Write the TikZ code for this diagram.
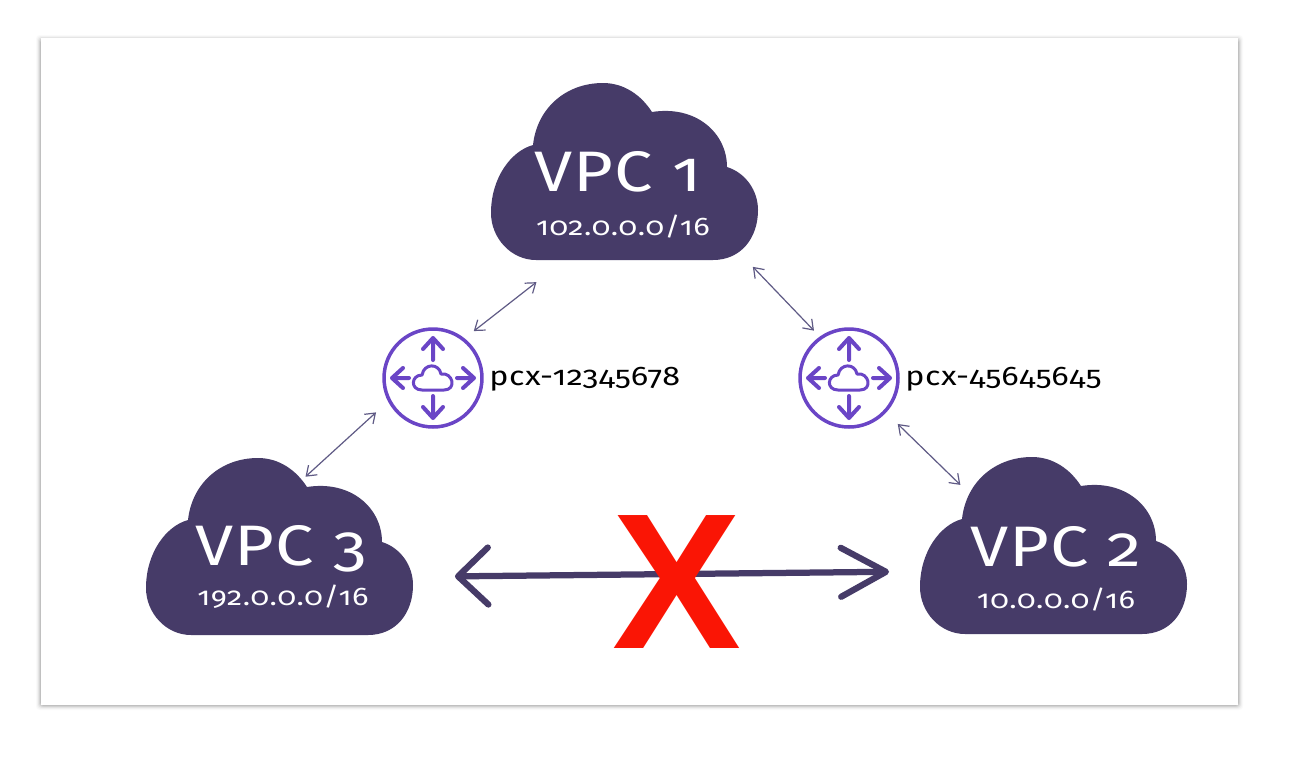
\documentclass[tikz,border=0pt]{standalone}
\usepackage{fontspec}
\setmainfont[Numbers=OldStyle,FakeStretch=1.2,LetterSpace=2]{Fira Sans}
\newfontfamily\crossfont{Liberation Sans}
\usetikzlibrary{arrows.meta}
\definecolor{vpcfill}{HTML}{463B68}
\definecolor{pcxpurple}{HTML}{6A45C6}
\definecolor{linkgray}{HTML}{5F5A85}
\definecolor{crossred}{HTML}{FA1505}
\begin{document}
\begin{tikzpicture}[x=0.02cm,y=-0.02cm,
  vpcbox/.style={minimum width=5.34cm,minimum height=3.54cm,inner sep=0pt,outer sep=0pt},
  vpcname/.style={text=white,inner sep=0pt,font=\fontsize{32.5}{32.5}\selectfont},
  vpccidr/.style={text=white,inner sep=0pt,font=\fontsize{14.5}{14.5}\selectfont},
  pcxbox/.style={circle,draw=pcxpurple,line width=0.07cm,minimum size=1.96cm,inner sep=0pt,outer sep=0pt},
  pcxname/.style={inner sep=0pt,anchor=west,font=\fontsize{15.3}{15.3}\selectfont},
  link/.style={{Straight Barb[length=0.18cm,width=0.26cm]}-{Straight Barb[length=0.18cm,width=0.26cm]},linkgray,line width=0.024cm},
  vpccloud/.pic={
    \fill[vpcfill] (42,62) .. controls (46,25) and (75,0) .. (112,0)
      .. controls (133,0) and (150,12) .. (161,29)
      .. controls (205,22) and (236,50) .. (236,84)
      .. controls (255,90) and (267,108) .. (267,127)
      .. controls (267,155) and (250,177) .. (222,177)
      -- (45,177) .. controls (20,177) and (0,155) .. (0,130)
      .. controls (0,95) and (20,68) .. (42,62) -- cycle;
  },
  pcxicon/.pic={
    \begin{scope}[pcxpurple,line width=0.08cm,line cap=round,line join=round]
    \draw (0,-18) -- (0,-40) (-10,-29) -- (0,-40) -- (10,-29);
    \draw (0,18) -- (0,40) (-10,29) -- (0,40) -- (10,29);
    \draw (-24,0) -- (-41,0) (-30,-10) -- (-41,0) -- (-30,10);
    \draw (24,0) -- (41,0) (30,-10) -- (41,0) -- (30,10);
    \draw[line width=0.06cm] (-11,12) .. controls (-23,12) and (-22,-3) .. (-11,-3)
      .. controls (-9,-15) and (6,-15) .. (8,-4)
      .. controls (20,-6) and (24,12) .. (11,12) -- cycle;
    \end{scope}
  }]
\path[use as bounding box] (0,0) rectangle (1294,758);
\fill[white] (0,0) rectangle (1294,758);
% soft edge of the sheet
\foreach \r/\o in {5/0.02,4/0.03,3/0.05,2/0.07,1/0.09}
  \fill[black,opacity=\o,rounded corners=2pt] (41-\r,40-\r) rectangle (1238+\r,705+\r);
\fill[white] (41,38) rectangle (1238,705);
\pic at (491,83) {vpccloud};
\pic at (146,458) {vpccloud};
\pic at (920,457) {vpccloud};
\node[vpcbox] (vpc1) at (624.5,171.5) {};
\node[vpcbox] (vpc3) at (279.5,546) {};
\node[vpcbox] (vpc2) at (1053.5,545.5) {};
\node[vpcname] (vpc1name) at (618,172) {VPC 1};
\node[vpccidr] (vpc1cidr) at (623,227) {102.0.0.0/16};
\node[vpcname] (vpc3name) at (281,549) {VPC 3};
\node[vpccidr] (vpc3cidr) at (283,597) {192.0.0.0/16};
\node[vpcname] (vpc2name) at (1056,547) {VPC 2};
\node[vpccidr] (vpc2cidr) at (1056,600) {10.0.0.0/16};
\node[pcxbox] (pcx1) at (433,378) {};
\node[pcxbox] (pcx2) at (849,378) {};
\pic at (433,378) {pcxicon};
\pic at (849,378) {pcxicon};
\node[pcxname] (pcx1name) at (489,379) {pcx-12345678};
\node[pcxname] (pcx2name) at (905,379) {pcx-45645645};
\draw[link,shorten <=0.72cm,shorten >=0.27cm] (vpc1.236) -- (pcx1.52.6);
\draw[link,shorten <=0.36cm,shorten >=-0.57cm] (pcx1.207) -- (vpc3.62.7);
\draw[link,shorten <=0.19cm,shorten >=0.2cm] (vpc1.324.3) -- (pcx2.125.6);
\draw[link,shorten <=0.36cm,shorten >=-0.8cm] (pcx2.317.5) -- (vpc2.144.9);
\draw[{Straight Barb[length=0.6cm,width=1.14cm,round]}-{Straight Barb[length=0.9cm,width=0.98cm,round]},vpcfill,line width=0.125cm,line cap=round,shorten <=0.84cm,shorten >=0.62cm] (vpc3.-13) -- (vpc2.191);
\node[text=crossred,inner sep=0pt,font=\crossfont\bfseries\fontsize{110}{110}\selectfont] (cross) at (676.5,582) {X};
\end{tikzpicture}
\end{document}
